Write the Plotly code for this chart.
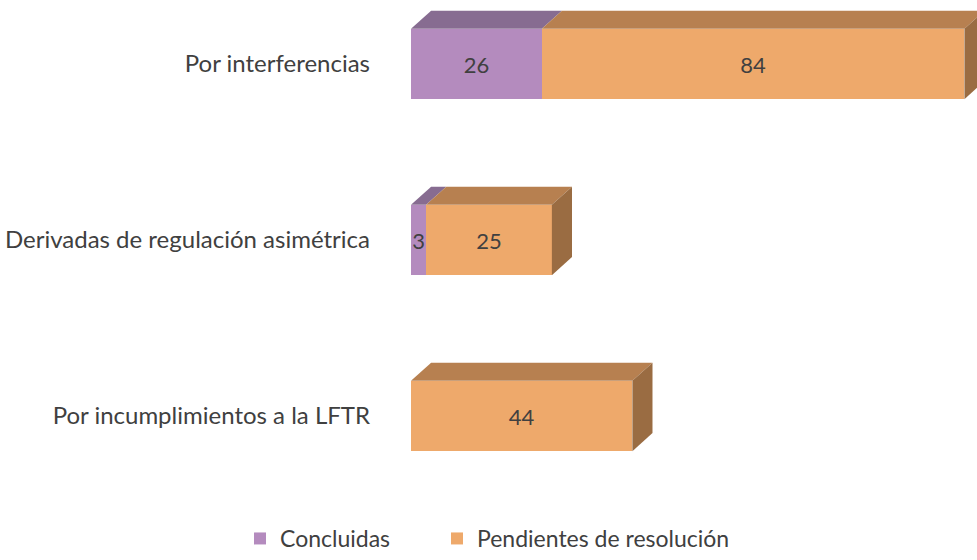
import plotly.graph_objects as go

categories = ["Por interferencias", "Derivadas de regulación asimétrica", "Por incumplimientos a la LFTR"]
concluidas = [26, 3, 0]
pendientes = [84, 25, 44]
series_names = ["Concluidas", "Pendientes de resolución"]

front_colors = ["#B48BBE", "#EEA96B"]
top_colors = ["#876C91", "#B78050"]
side_colors = ["#8A6B95", "#9A6C42"]

ypos = list(range(len(categories)))
BAR_W = 0.4
DX = 4.0     # depth in x data units (style)
DY = 0.103   # depth in y data units (style)
FONT = "Lato"
TXT = "#404040"

fig = go.Figure()
series = [concluidas, pendientes]
legend_ids = ["legend", "legend2"]

for s, (name, vals) in enumerate(zip(series_names, series)):
    fig.add_trace(go.Bar(
        y=ypos, x=vals, orientation="h", name=name, width=BAR_W,
        marker=dict(color=front_colors[s], line=dict(width=0)),
        text=[str(v) if v else "" for v in vals], textposition="inside",
        insidetextanchor="middle", textangle=0,
        textfont=dict(family=FONT, size=22, color=TXT),
        constraintext="none", legend=legend_ids[s],
        hoverinfo="skip",
    ))

# 3D faces derived from the data
for i, y in enumerate(ypos):
    start = 0
    last_end = None
    last_s = None
    for s, vals in enumerate(series):
        v = vals[i]
        if v <= 0:
            continue
        x0, x1 = start, start + v
        yt = y - BAR_W / 2
        fig.add_trace(go.Scatter(
            x=[x0, x1, x1 + DX, x0 + DX, x0],
            y=[yt, yt, yt - DY, yt - DY, yt],
            fill="toself", mode="lines", line=dict(width=0),
            fillcolor=top_colors[s], showlegend=False, hoverinfo="skip",
        ))
        start = x1
        last_end, last_s = x1, s
    if last_end is not None:
        yt = y - BAR_W / 2
        yb = y + BAR_W / 2
        fig.add_trace(go.Scatter(
            x=[last_end, last_end + DX, last_end + DX, last_end, last_end],
            y=[yt, yt - DY, yb - DY, yb, yt],
            fill="toself", mode="lines", line=dict(width=0),
            fillcolor=side_colors[last_s], showlegend=False, hoverinfo="skip",
        ))

leg_common = dict(orientation="h", xref="container", yref="container",
                  y=0, xanchor="left", yanchor="bottom",
                  font=dict(family=FONT, size=23, color=TXT),
                  itemwidth=30, bgcolor="rgba(0,0,0,0)")

fig.update_layout(
    width=977, height=560,
    barmode="stack",
    uniformtext=dict(minsize=22, mode="show"),
    plot_bgcolor="white", paper_bgcolor="white",
    margin=dict(l=411, r=0, t=0, b=60),
    font=dict(family=FONT, color=TXT),
    xaxis=dict(range=[0, 112.5], showgrid=False, zeroline=False,
               showticklabels=False, showline=False, fixedrange=True),
    yaxis=dict(range=[2.477, -0.3636], tickvals=ypos, ticktext=categories,
               showgrid=False, zeroline=False, showline=False, ticks="",
               ticklabelstandoff=40, fixedrange=True,
               tickfont=dict(family=FONT, size=24, color=TXT)),
    legend=dict(x=240 / 977, **leg_common),
    legend2=dict(x=437 / 977, **leg_common),
    showlegend=True,
)

fig.write_html("out.html", config={"displayModeBar": False},
               post_script="document.body.style.margin='0';")
